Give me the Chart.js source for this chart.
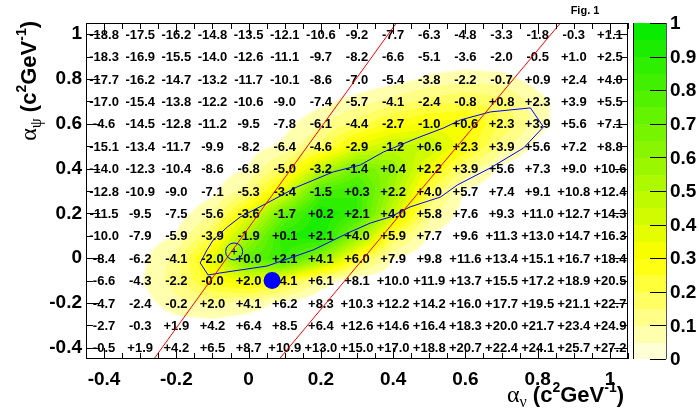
<!DOCTYPE html>
<html>
<head>
<meta charset="utf-8">
<script src="https://cdn.jsdelivr.net/npm/chart.js@4.4.1/dist/chart.umd.min.js"></script>
<style>
html,body{margin:0;padding:0;background:#fff;}
#caixa{width:699px;height:409px;position:relative;}
</style>
</head>
<body>
<div id="caixa"><canvas id="graficoMapa"></canvas></div>
<script>

// =============================
// DADOS
// =============================

const colunasX = [-0.4,-0.3,-0.2,-0.1,0,0.1,0.2,0.3,0.4,0.5,0.6,0.7,0.8,0.9,1.0];
const linhasY = [1.0,0.9,0.8,0.7,0.6,0.5,0.4,0.3,0.2,0.1,0,-0.1,-0.2,-0.3,-0.4];

const ticksX = [-0.4,-0.2,0,0.2,0.4,0.6,0.8,1];
const ticksY = [-0.4,-0.2,0,0.2,0.4,0.6,0.8,1];
const ticksZ = [0,0.1,0.2,0.3,0.4,0.5,0.6,0.7,0.8,0.9,1];

// numeros escritos em cada celula (linha y=1.0 ate y=-0.4)
const linha10 = [-18.8,-17.5,-16.2,-14.8,-13.5,-12.1,-10.6,-9.2,-7.7,-6.3,-4.8,-3.3,-1.8,-0.3,1.1];
const linha09 = [-18.3,-16.9,-15.5,-14.0,-12.6,-11.1,-9.7,-8.2,-6.6,-5.1,-3.6,-2.0,-0.5,1.0,2.5];
const linha08 = [-17.7,-16.2,-14.7,-13.2,-11.7,-10.1,-8.6,-7.0,-5.4,-3.8,-2.2,-0.7,0.9,2.4,4.0];
const linha07 = [-17.0,-15.4,-13.8,-12.2,-10.6,-9.0,-7.4,-5.7,-4.1,-2.4,-0.8,0.8,2.3,3.9,5.5];
const linha06 = [-4.6,-14.5,-12.8,-11.2,-9.5,-7.8,-6.1,-4.4,-2.7,-1.0,0.6,2.3,3.9,5.6,7.1];
const linha05 = [-15.1,-13.4,-11.7,-9.9,-8.2,-6.4,-4.6,-2.9,-1.2,0.6,2.3,3.9,5.6,7.2,8.8];
const linha04 = [-14.0,-12.3,-10.4,-8.6,-6.8,-5.0,-3.2,-1.4,0.4,2.2,3.9,5.6,7.3,9.0,10.6];
const linha03 = [-12.8,-10.9,-9.0,-7.1,-5.3,-3.4,-1.5,0.3,2.2,4.0,5.7,7.4,9.1,10.8,12.4];
const linha02 = [-11.5,-9.5,-7.5,-5.6,-3.6,-1.7,0.2,2.1,4.0,5.8,7.6,9.3,11.0,12.7,14.3];
const linha01 = [-10.0,-7.9,-5.9,-3.9,-1.9,0.1,2.1,4.0,5.9,7.7,9.6,11.3,13.0,14.7,16.3];
const linha00 = [-8.4,-6.2,-4.1,-2.0,0.0,2.1,4.1,6.0,7.9,9.8,11.6,13.4,15.1,16.7,18.4];
const linhaM1 = [-6.6,-4.3,-2.2,-0.0,2.0,4.1,6.1,8.1,10.0,11.9,13.7,15.5,17.2,18.9,20.5];
const linhaM2 = [-4.7,-2.4,-0.2,2.0,4.1,6.2,8.3,10.3,12.2,14.2,16.0,17.7,19.5,21.1,22.7];
const linhaM3 = [-2.7,-0.3,1.9,4.2,6.4,8.5,6.4,12.6,14.6,16.4,18.3,20.0,21.7,23.4,24.9];
const linhaM4 = [-0.5,1.9,4.2,6.5,8.7,10.9,13.0,15.0,17.0,18.8,20.7,22.4,24.1,25.7,27.2];

const valores = [linha10,linha09,linha08,linha07,linha06,linha05,linha04,linha03,
linha02,linha01,linha00,linhaM1,linhaM2,linhaM3,linhaM4];

// mapa de cor (0..1), mesma grade
const mapaZ = [
[0,0,0,0,0,0,0,0,0,0,0,0,0,0,0],
[0,0,0,0,0,0,0,0,0,0,0,0,0,0,0],
[0,0,0,0,0,0,0,0,0.02,0.06,0.08,0.07,0.02,0,0],
[0,0,0,0,0,0,0.03,0.07,0.12,0.17,0.2,0.17,0.07,0,0],
[0,0,0,0,0,0.03,0.09,0.17,0.27,0.32,0.32,0.2,0.07,0,0],
[0,0,0,0,0.02,0.06,0.16,0.36,0.46,0.46,0.3,0.12,0.03,0,0],
[0,0,0,0.01,0.05,0.18,0.46,0.7,0.6,0.33,0.14,0.03,0,0,0],
[0,0,0,0.03,0.13,0.38,0.8,0.85,0.55,0.2,0.04,0,0,0,0],
[0,0,0.02,0.09,0.35,0.72,0.95,0.85,0.45,0.12,0.02,0,0,0,0],
[0,0.01,0.05,0.2,0.56,0.9,0.95,0.6,0.2,0.04,0,0,0,0,0],
[0,0.03,0.12,0.36,0.75,0.85,0.6,0.24,0.05,0,0,0,0,0,0],
[0,0.04,0.13,0.28,0.36,0.26,0.08,0.01,0,0,0,0,0,0,0],
[0,0.02,0.08,0.11,0.08,0.03,0,0,0,0,0,0,0,0,0],
[0,0,0.02,0.02,0.01,0,0,0,0,0,0,0,0,0,0],
[0,0,0,0,0,0,0,0,0,0,0,0,0,0,0]
];

// contorno azul
const contornoX = [-0.112,-0.134,-0.115,-0.098,-0.059,-0.023,0.051,0.134,0.234,0.309,0.373,0.467,0.539,0.586,0.669,0.780,0.816,0.761,0.669,0.578,0.531,0.447,0.392,0.337,0.281,0.179,0.051,-0.079,-0.112];
const contornoY = [-0.075,-0.021,0.037,0.081,0.139,0.184,0.246,0.318,0.385,0.416,0.474,0.537,0.581,0.617,0.653,0.671,0.586,0.492,0.403,0.327,0.273,0.229,0.184,0.157,0.117,0.037,-0.035,-0.066,-0.075];

// retas vermelhas
const reta1X = [-0.262,0.409];
const reta1Y = [-0.45,1.05];
const reta2X = [0.085,0.863];
const reta2Y = [-0.45,1.05];

// circulo pequeno e ponto azul
const circuloX = [-0.04];
const circuloY = [0.03];
const pontoX = [0.065];
const pontoY = [-0.1];

const fonteNum = 'bold 13px "Liberation Sans", Arial, sans-serif';
const fonteEixo = {family:'"Liberation Sans", Arial, sans-serif', size:19, weight:'bold'};


// =============================
// FUNCOES
// =============================

function pares(xs, ys){
return xs.map((x,i)=>({x:x, y:ys[i]}));
}

function formatarNum(v){
if(Object.is(v,-0)) return "-0.0";
if(v < 0) return v.toFixed(1);
return "+" + v.toFixed(1);
}

function corNivel(t){
if(t < 0.3){
const f = t/0.3;
return [255,255,Math.round(232*(1-f))];
}
const f = (t-0.3)/0.7;
return [Math.round(255*(1-f)), Math.round(255-20*f), 0];
}

function amostra(xv, yv){
const n = colunasX.length;
const m = linhasY.length;
let fi = (xv - colunasX[0])/(colunasX[1]-colunasX[0]);
let fj = (yv - linhasY[0])/(linhasY[1]-linhasY[0]);
fi = Math.max(0, Math.min(n-1, fi));
fj = Math.max(0, Math.min(m-1, fj));
const i0 = Math.floor(fi), j0 = Math.floor(fj);
const i1 = Math.min(i0+1,n-1), j1 = Math.min(j0+1,m-1);
const a = fi-i0, b = fj-j0;
const v00 = mapaZ[j0][i0], v10 = mapaZ[j0][i1], v01 = mapaZ[j1][i0], v11 = mapaZ[j1][i1];
return (v00*(1-a)+v10*a)*(1-b) + (v01*(1-a)+v11*a)*b;
}

function textoRico(ctx, partes, x, y, direita){
let largura = 0;
partes.forEach(p=>{ ctx.font = p.f; largura += ctx.measureText(p.t).width; });
let cx = direita ? x - largura : x;
partes.forEach(p=>{
ctx.font = p.f;
ctx.fillText(p.t, cx, y + (p.dy || 0));
cx += ctx.measureText(p.t).width;
});
}

function tituloPartes(letra){
const n = 'bold 22px "Liberation Sans", Arial, sans-serif';
const s = 'bold 14px "Liberation Sans", Arial, sans-serif';
return [
{t:"\u03b1", f:'24px "Liberation Serif", serif'},
{t:letra, f:'16px "Liberation Serif", serif', dy:5},
{t:" (c", f:n},
{t:"2", f:s, dy:-10},
{t:"GeV", f:n},
{t:"-1", f:s, dy:-10},
{t:")", f:n}
];
}


// =============================
// PLUGINS
// =============================

const pluginMapa = {
id:"mapa",
beforeDatasetsDraw(chart){
const ctx = chart.ctx;
const area = chart.chartArea;
const sx = chart.scales.x, sy = chart.scales.y;
const w = Math.round(area.right-area.left);
const h = Math.round(area.bottom-area.top);
const off = document.createElement("canvas");
off.width = w; off.height = h;
const octx = off.getContext("2d");
const img = octx.createImageData(w,h);
for(let py=0; py<h; py++){
const yv = sy.getValueForPixel(area.top+py+0.5);
for(let px=0; px<w; px++){
const xv = sx.getValueForPixel(area.left+px+0.5);
const v = amostra(xv,yv);
if(v < 0.045) continue;
const k = Math.min(19, Math.floor(v*20));
const c = corNivel((k+0.5)/20);
const o = (py*w+px)*4;
img.data[o] = c[0]; img.data[o+1] = c[1]; img.data[o+2] = c[2]; img.data[o+3] = 255;
}
}
octx.putImageData(img,0,0);
ctx.drawImage(off, area.left, area.top);

// numeros
ctx.save();
ctx.fillStyle = "#000";
ctx.font = fonteNum;
ctx.textAlign = "center";
ctx.textBaseline = "middle";
valores.forEach((linha,j)=>{
linha.forEach((v,i)=>{
ctx.fillText(formatarNum(v), sx.getPixelForValue(colunasX[i]), sy.getPixelForValue(linhasY[j])+1);
});
});
ctx.restore();
},

afterDatasetsDraw(chart){
const ctx = chart.ctx;
const area = chart.chartArea;
const sx = chart.scales.x, sy = chart.scales.y;

ctx.save();
ctx.strokeStyle = "#000";
ctx.lineWidth = 1;
ctx.beginPath();

// ticks x a cada 0.05
for(let i=-9; i<=21; i++){
const px = Math.round(sx.getPixelForValue(i*0.05))+0.5;
const len = (i%4===0) ? 11 : 6;
ctx.moveTo(px, area.bottom); ctx.lineTo(px, area.bottom-len);
ctx.moveTo(px, area.top); ctx.lineTo(px, area.top+len);
}
// ticks y a cada 0.1
for(let i=-4; i<=10; i++){
const py = Math.round(sy.getPixelForValue(i*0.1))+0.5;
const len = (i%2===0) ? 14 : 7;
ctx.moveTo(area.left, py); ctx.lineTo(area.left+len, py);
ctx.moveTo(area.right, py); ctx.lineTo(area.right-len, py);
}
ctx.stroke();

ctx.strokeRect(Math.round(area.left)+0.5, Math.round(area.top)+0.5,
Math.round(area.right-area.left)-1, Math.round(area.bottom-area.top)-1);
ctx.restore();
},

afterDraw(chart){
const ctx = chart.ctx;
const area = chart.chartArea;

// barra de cores
const bx0 = 633, bx1 = 666;
const zpx = v => area.bottom - v*(area.bottom-area.top);
ctx.save();
for(let k=0; k<20; k++){
const c = corNivel((k+0.5)/20);
ctx.fillStyle = "rgb("+c[0]+","+c[1]+","+c[2]+")";
const y0 = zpx((k+1)/20), y1 = zpx(k/20);
ctx.fillRect(bx0, Math.floor(y0), bx1-bx0, Math.ceil(y1)-Math.floor(y0));
}
ctx.strokeStyle = "#000";
ctx.lineWidth = 1;
ctx.beginPath();
ctx.moveTo(bx0+0.5, area.top); ctx.lineTo(bx0+0.5, area.bottom);
ctx.stroke();
ctx.strokeStyle = "#555";
ctx.beginPath();
ctx.moveTo(bx1+0.5, area.top); ctx.lineTo(bx1+0.5, area.bottom);
ctx.stroke();
ctx.strokeStyle = "#000";
ctx.beginPath();
ticksZ.forEach(v=>{
const py = Math.round(zpx(v))+0.5;
ctx.moveTo(bx1, py); ctx.lineTo(bx1-16, py);
});
ctx.stroke();

ctx.fillStyle = "#000";
ctx.font = 'bold 19px "Liberation Sans", Arial, sans-serif';
ctx.textAlign = "left";
ctx.textBaseline = "middle";
ticksZ.forEach(v=>{
ctx.fillText(String(Math.round(v*10)/10), 670, zpx(v)+1);
});

// Fig. 1
ctx.font = 'bold 11px "Liberation Sans", Arial, sans-serif';
ctx.textAlign = "center";
ctx.fillText("Fig. 1", 585, 11);

// titulos
ctx.textAlign = "left";
ctx.textBaseline = "alphabetic";
textoRico(ctx, tituloPartes("\u03bd"), area.right-4, 402, true);

ctx.translate(36, area.top-2);
ctx.rotate(-Math.PI/2);
textoRico(ctx, tituloPartes("\u03c8"), 0, 0, true);
ctx.restore();
}
};


// =============================
// GRAFICO
// =============================

const ctx = document.getElementById("graficoMapa").getContext("2d");

const chart = new Chart(ctx,{
type:"scatter",
data:{
datasets:[
{
data: pares(pontoX,pontoY),
pointRadius: 8.5,
pointBackgroundColor: "#0000ff",
pointBorderColor: "#0000ff",
pointBorderWidth: 0
},
{
data: pares(circuloX,circuloY),
pointStyle: "cross",
pointRadius: 3,
pointBorderColor: "#000",
pointBorderWidth: 1
},
{
data: pares(circuloX,circuloY),
pointRadius: 8.5,
pointBackgroundColor: "rgba(0,0,0,0)",
pointBorderColor: "#0000ff",
pointBorderWidth: 1
},
{
data: pares(reta1X,reta1Y),
showLine: true,
borderColor: "#ff0000",
borderWidth: 1,
pointRadius: 0
},
{
data: pares(reta2X,reta2Y),
showLine: true,
borderColor: "#ff0000",
borderWidth: 1,
pointRadius: 0
},
{
data: pares(contornoX,contornoY),
showLine: true,
borderColor: "#0000ff",
borderWidth: 1,
pointRadius: 0,
tension: 0
}
]
},
options:{
responsive: true,
maintainAspectRatio: false,
animation: false,
layout:{ padding:{left:0, top:23, right:71, bottom:0} },
plugins:{
legend:{display:false},
tooltip:{enabled:false}
},
scales:{
x:{
type:"linear",
min:-0.45,
max:1.05,
grid:{display:false, drawTicks:false},
border:{display:false},
ticks:{
autoSkip:false,
maxRotation:0,
padding:9,
color:"#000",
font:fonteEixo,
callback:(v)=>String(Math.round(v*10)/10)
},
afterBuildTicks:(ax)=>{ ax.ticks = ticksX.map(v=>({value:v})); },
afterFit:(ax)=>{ ax.height = 50; }
},
y:{
type:"linear",
min:-0.45,
max:1.05,
grid:{display:false, drawTicks:false},
border:{display:false},
ticks:{
autoSkip:false,
padding:4,
color:"#000",
font:fonteEixo,
callback:(v)=>String(Math.round(v*10)/10)
},
afterBuildTicks:(ax)=>{ ax.ticks = ticksY.map(v=>({value:v})); },
afterFit:(ax)=>{ ax.width = 86; }
}
}
},
plugins:[pluginMapa]
});

</script>
</body>
</html>
